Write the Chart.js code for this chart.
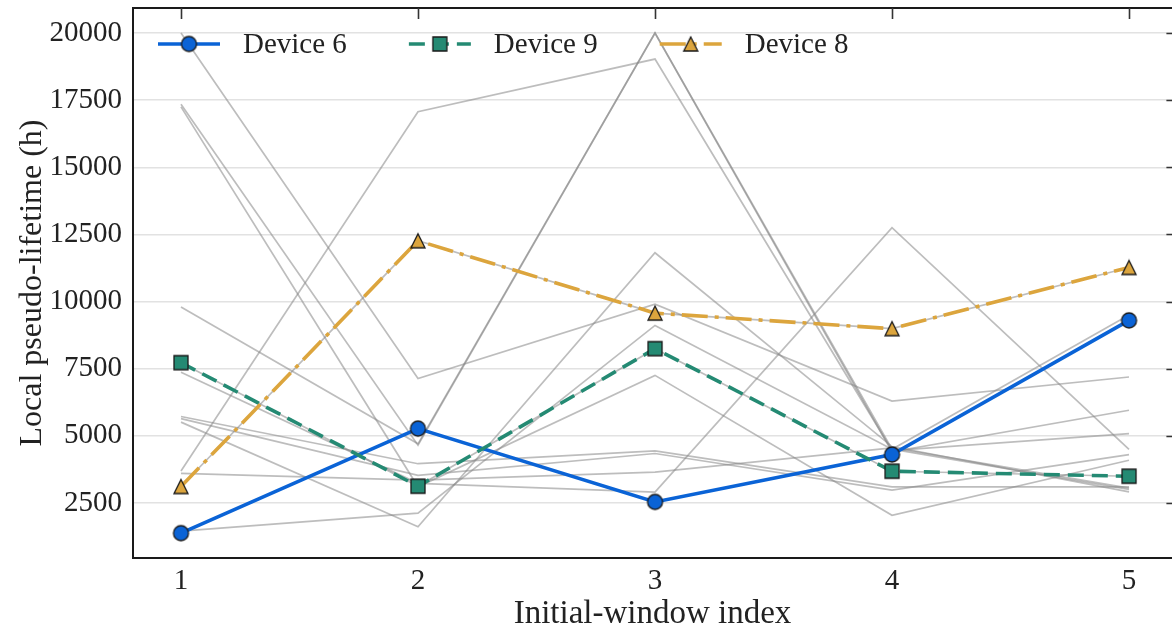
<!DOCTYPE html>
<html>
<head>
<meta charset="utf-8">
<script src="https://cdn.jsdelivr.net/npm/chart.js@4.4.1/dist/chart.umd.min.js"></script>
<style>
  html, body { margin: 0; padding: 0; background: #fff; overflow: hidden; }
  #chart { display: block; }
</style>
</head>
<body>
<canvas id="chart" width="1172" height="634"></canvas>
<script>
// Initial-window index on the x axis
const windows = [1, 2, 3, 4, 5];
const yTickValues = [2500, 5000, 7500, 10000, 12500, 15000, 17500, 20000];

// Highlighted devices (local pseudo-lifetime, hours)
const device6 = [1374, 5269, 2538, 4302, 9298];
const device9 = [7724, 3122, 8245, 3680, 3494];
const device8 = [3111, 12262, 9569, 8989, 11269];

// Remaining devices, drawn as grey background traces
const device1  = [20000, 7130, 9900, 6290, 7190];
const device2  = [17350, 4650, 20000, 4500, 9500];
const device3  = [17250, 3100, 7250, 2040, 4090];
const device4  = [9800, 4700, 20000, 4400, 5950];
const device5  = [7370, 3230, 2900, 12750, 4490];
const device7  = [5720, 3960, 4435, 3100, 3100];
const device10 = [5640, 3530, 4340, 2980, 4300];
const device11 = [5510, 1610, 11815, 4600, 2910];
const device12 = [3690, 17070, 19030, 4450, 5080];
const device13 = [3600, 3350, 3650, 4550, 3050];
const device14 = [1450, 2120, 9110, 4500, 3000];

const SERIF = '"Liberation Serif", "DejaVu Serif", serif';
const INK = '#222222';
// the plot box closes at x = 5.2, just past the canvas edge
const X_FRAME_RIGHT = 5.2;

function markerImage(shape, fill, size) {
  const c = document.createElement('canvas');
  const pad = 2;
  c.width = c.height = size + pad * 2;
  const ctx = c.getContext('2d');
  const m = c.width / 2, r = size / 2;
  ctx.beginPath();
  if (shape === 'circle') {
    ctx.arc(m, m, r, 0, Math.PI * 2);
  } else if (shape === 'square') {
    ctx.rect(m - r, m - r, 2 * r, 2 * r);
  } else {
    ctx.moveTo(m, m - r);
    ctx.lineTo(m + r, m + r);
    ctx.lineTo(m - r, m + r);
    ctx.closePath();
  }
  ctx.fillStyle = fill;
  ctx.fill();
  ctx.lineWidth = 1.3;
  ctx.strokeStyle = '#1a1a1a';
  ctx.stroke();
  return c;
}

const toPoints = arr => arr.map((v, i) => ({ x: windows[i], y: v }));

const greyValues = [device1, device2, device3, device4, device5, device7, device10,
                    device11, device12, device13, device14, device6, device9, device8];

const greyDatasets = greyValues.map(arr => ({
  data: toPoints(arr),
  borderColor: 'rgba(135,135,135,0.55)',
  borderWidth: 1.7,
  pointRadius: 0,
  order: 10,
  showInLegend: false
}));

const highlight = [
  { label: 'Device 6', values: device6, color: '#0a63d6', dash: [], marker: markerImage('circle', '#0a63d6', 15), order: 2 },
  { label: 'Device 9', values: device9, color: '#248a73', dash: [16, 8], marker: markerImage('square', '#248a73', 14), order: 1 },
  { label: 'Device 8', values: device8, color: '#dca53d', dash: [26, 7, 4, 7], marker: markerImage('triangle', '#dca53d', 14), order: 0 }
];

const highlightDatasets = highlight.map(h => ({
  label: h.label,
  data: toPoints(h.values),
  borderColor: h.color,
  backgroundColor: h.color,
  borderWidth: 3.6,
  borderDash: h.dash,
  borderCapStyle: 'butt',
  pointStyle: h.marker,
  pointRadius: 7,
  order: h.order,
  showInLegend: true
}));

// Top and right spines with inward tick marks
const frameTicks = {
  id: 'frameTicks',
  afterDraw(chart) {
    const { ctx, chartArea: a, scales: { x, y } } = chart;
    const right = x.getPixelForValue(X_FRAME_RIGHT);
    ctx.save();
    ctx.strokeStyle = '#1a1a1a';
    ctx.lineWidth = 2;
    ctx.beginPath();
    ctx.moveTo(a.left, a.top);
    ctx.lineTo(right, a.top);
    ctx.lineTo(right, a.bottom);
    ctx.stroke();
    ctx.lineWidth = 1.6;
    ctx.strokeStyle = '#333';
    ctx.beginPath();
    windows.forEach(v => {
      const px = Math.round(x.getPixelForValue(v)) + 0.5;
      ctx.moveTo(px, a.top);
      ctx.lineTo(px, a.top + 11);
    });
    yTickValues.forEach(v => {
      const py = Math.round(y.getPixelForValue(v)) + 0.5;
      ctx.moveTo(right, py);
      ctx.lineTo(right - 10, py);
    });
    ctx.stroke();
    ctx.restore();
  }
};

// Legend placed inside the plot, one row, line sample with marker
const inlineLegend = {
  id: 'inlineLegend',
  afterDraw(chart) {
    const { ctx, chartArea: a } = chart;
    const items = chart.data.datasets.filter(d => d.showInLegend);
    const order = ['Device 6', 'Device 9', 'Device 8'];
    items.sort((p, q) => order.indexOf(p.label) - order.indexOf(q.label));
    ctx.save();
    ctx.font = '29px ' + SERIF;
    ctx.textBaseline = 'middle';
    let xPos = a.left + 25;
    const yPos = a.top + 36;
    const sampleLen = 62;
    items.forEach(d => {
      ctx.save();
      ctx.strokeStyle = d.borderColor;
      ctx.lineWidth = d.borderWidth;
      ctx.setLineDash(d.borderDash || []);
      ctx.lineCap = 'butt';
      ctx.beginPath();
      ctx.moveTo(xPos, yPos);
      ctx.lineTo(xPos + sampleLen, yPos);
      ctx.stroke();
      ctx.restore();
      const img = d.pointStyle;
      ctx.drawImage(img, xPos + sampleLen / 2 - img.width / 2, yPos - img.height / 2);
      const tx = xPos + sampleLen + 23;
      ctx.fillStyle = INK;
      ctx.fillText(d.label, tx, yPos + 1);
      xPos = tx + ctx.measureText(d.label).width + 62;
    });
    ctx.restore();
  }
};

function zeroPadding(s) {
  s.paddingTop = 0;
  s.paddingBottom = 0;
  s.paddingLeft = 0;
  s.paddingRight = 0;
}

new Chart(document.getElementById('chart'), {
  type: 'line',
  data: { datasets: [...highlightDatasets, ...greyDatasets] },
  options: {
    responsive: false,
    animation: false,
    events: [],
    layout: { autoPadding: false, padding: { top: 8, right: 0, left: 0, bottom: 0 } },
    plugins: { legend: { display: false }, tooltip: { enabled: false } },
    elements: { line: { tension: 0, fill: false } },
    scales: {
      x: {
        type: 'linear',
        min: 0.7975,
        max: 5.1814,
        afterBuildTicks: s => { s.ticks = windows.map(v => ({ value: v })); },
        afterFit: s => { s.height = 76; zeroPadding(s); },
        grid: { display: false, drawTicks: false },
        border: { display: true, color: '#1a1a1a', width: 2 },
        ticks: { color: INK, font: { family: SERIF, size: 29 }, padding: 6, maxRotation: 0 },
        title: { display: true, text: 'Initial-window index', color: INK,
                 font: { family: SERIF, size: 33, lineHeight: 1.2 }, padding: { top: 0, bottom: 0 } }
      },
      y: {
        type: 'linear',
        min: 449,
        max: 20931,
        afterBuildTicks: s => { s.ticks = yTickValues.map(v => ({ value: v })); },
        afterFit: s => { s.width = 133; zeroPadding(s); },
        grid: { display: true, drawTicks: false, color: '#e2e2e2', lineWidth: 1.5 },
        border: { display: true, color: '#1a1a1a', width: 2 },
        ticks: { color: INK, font: { family: SERIF, size: 29 }, padding: 11, callback: v => String(v) },
        title: { display: true, text: 'Local pseudo-lifetime (h)', color: INK,
                 font: { family: SERIF, size: 32, lineHeight: 1.2 }, padding: { top: 13, bottom: 0 } }
      }
    }
  },
  plugins: [frameTicks, inlineLegend]
});
</script>
</body>
</html>
